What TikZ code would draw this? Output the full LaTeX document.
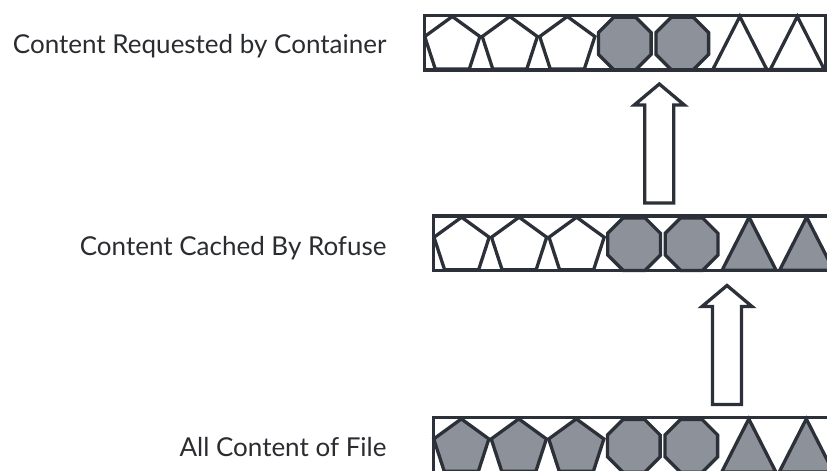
\documentclass[tikz,border=0pt]{standalone}
\usepackage{fontspec}
\setmainfont{Lato}
\usetikzlibrary{calc}
\definecolor{ink}{HTML}{2C3038}
\definecolor{blockfill}{HTML}{8C919A}
\definecolor{labelink}{HTML}{2A2C30}
\tikzset{
  outline/.style={draw=ink, line width=3.3pt, line join=miter},
  filled/.style={outline, fill=blockfill},
  empty/.style={outline, fill=white},
  rowlabel/.style={anchor=base east, inner sep=0pt, text=labelink,
    font=\fontsize{26}{31}\selectfont},
  blockarrow/.style={outline, fill=white},
}
% one row of blocks; #1 = pentagon style, #2 = octagon style, #3 = triangle style
\newcommand{\blockrow}[3]{%
  \draw[outline, fill=white] (424.5,15.3) rectangle (826,70);
  \foreach \cx in {452.3,509.8,567.3}{
    \draw[#1] ($(\cx,45.5)+(-90:29)$)
      -- ($(\cx,45.5)+(-18:29)$) -- ($(\cx,45.5)+(54:29)$)
      -- ($(\cx,45.5)+(126:29)$) -- ($(\cx,45.5)+(198:29)$) -- cycle;
  }
  \foreach \cx in {624.8,682.3}{
    \draw[#2] ($(\cx,43.5)+(22.5:28.5)$)
      \foreach \a in {67.5,112.5,157.5,202.5,247.5,292.5,337.5}{ -- ($(\cx,43.5)+(\a:28.5)$) } -- cycle;
  }
  \foreach \cx in {739.8,797.3}{
    \draw[#3] (\cx,16.5) -- (\cx+27,69.5) -- (\cx-27,69.5) -- cycle;
  }
}
\begin{document}
\begin{tikzpicture}[x=1pt, y=-1pt]
  \useasboundingbox (0,0) rectangle (827,471);
  \clip (0,0) rectangle (827,471);
  \fill[white] (0,0) rectangle (827,471);

  % requested row
  \begin{scope}
    \blockrow{empty}{filled}{empty}
  \end{scope}
  % cached row
  \begin{scope}[shift={(9.3,200.7)}]
    \blockrow{empty}{filled}{filled}
  \end{scope}
  % full file row
  \begin{scope}[shift={(9,402.4)}]
    \blockrow{filled}{filled}{filled}
  \end{scope}

  \node[rowlabel] (req) at (386.7,53.3) {Content Requested by Container};
  \node[rowlabel] (cache) at (386.7,255) {Content Cached By Rofuse};
  \node[rowlabel] (all) at (386.7,456) {All Content of File};

  % upward block arrows between the rows
  \draw[blockarrow] (659.3,84) -- (684.3,105) -- (673.8,105) -- (673.8,203)
    -- (644.8,203) -- (644.8,105) -- (634.3,105) -- cycle;
  \draw[blockarrow] (727,285.5) -- (752,306.5) -- (741.5,306.5) -- (741.5,404.5)
    -- (712.5,404.5) -- (712.5,306.5) -- (702,306.5) -- cycle;
\end{tikzpicture}
\end{document}
